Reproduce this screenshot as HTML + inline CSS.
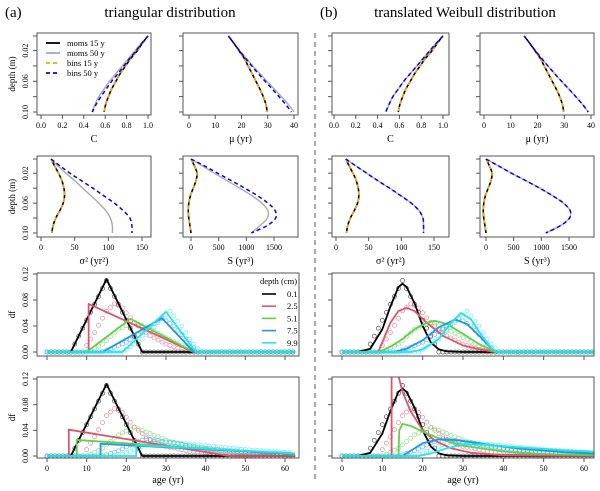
<!DOCTYPE html>
<html><head><meta charset="utf-8"><style>
html,body{margin:0;padding:0;background:#fff;}
svg{display:block;font-family:"Liberation Serif",serif;}
</style></head><body>
<svg id="fig" width="600" height="491" viewBox="0 0 600 491" xmlns="http://www.w3.org/2000/svg">
<text x="5" y="17" font-size="15">(a)</text>
<text x="170" y="17" font-size="15" text-anchor="middle">triangular distribution</text>
<text x="320" y="17" font-size="15">(b)</text>
<text x="465" y="17" font-size="15" text-anchor="middle">translated Weibull distribution</text>
<line x1="315" y1="33" x2="315" y2="482" stroke="#555" stroke-width="1" stroke-dasharray="5,4"/>
</svg>
<script>
// ---------- data ----------
const depths=[0.001,0.01,0.02,0.03,0.04,0.05,0.06,0.07,0.08,0.09,0.10];
const C_m15=[1.0,0.95,0.90,0.84,0.79,0.74,0.70,0.66,0.63,0.605,0.59];
const C_m50=[1.0,0.94,0.88,0.82,0.76,0.70,0.64,0.59,0.54,0.505,0.475];
const C_b50a=[1.0,0.945,0.89,0.83,0.775,0.72,0.66,0.61,0.56,0.515,0.48];
const MU_m15=[15,17,19,21,22.5,24,25.5,27,28.3,29.3,29.8];
const MU_m50=[15,17,19.3,21.8,24.3,27,29.7,32.5,35.2,37.8,40];
const MU_b50a=[15,17,19.2,21.5,23.9,26.4,29,31.7,34.3,36.8,39];
const MU_m50b=[15,17,19.2,21.5,23.9,26.4,29,31.7,34.3,36.8,39];
const V_m15=[15,20,26,31,34,35,33,28,22,18,16];
const V_m50a=[15,25,37,50,62,74,86,96,103,106,106];
const V_b50a=[15,28,43,60,77,93,109,122,132,135,135];
const V_m50b=[15,30,47,64,82,99,115,127,133,134,134];
const S_m15=[0,60,110,90,40,-10,-40,-50,-40,-20,0];
const S_m50a=[0,200,420,650,880,1100,1280,1390,1380,1250,1090];
const S_b50a=[0,240,480,730,970,1200,1390,1520,1530,1380,1090];
const S_m50b=[0,220,460,720,970,1200,1400,1520,1510,1350,1080];

const depthLabels=["0.1","2.5","5.1","7.5","9.9"];
const colors=["#000000","#DF536B","#61D04F","#2297E6","#28E2E5"];
const ageTicks=[0,10,20,30,40,50,60];
const dfTicks=[0,0.04,0.08,0.12];
const dfTickLabels=["0.00","0.04","0.08","0.12"];

// bins (circles) - same data in both models
const bin3=[
 [[6,0],[15,0.11],[24,0]],
 [[9,0],[12,0.03],[15,0.063],[17,0.074],[19,0.068],[22,0.045],[26,0.025],[30,0.012],[34,0.004],[37,0]],
 [[10,0],[14,0.012],[18,0.035],[22,0.046],[26,0.035],[30,0.022],[34,0.01],[38,0]],
 [[14,0],[20,0.015],[25,0.035],[29,0.052],[32,0.04],[35,0.02],[38,0]],
 [[19,0],[24,0.02],[28,0.045],[31,0.063],[34,0.04],[36.5,0.015],[39,0]]];
const bin4=[
 [[6,0],[15,0.11],[24,0]],
 [[9,0],[12,0.03],[15,0.063],[17,0.074],[19,0.068],[22,0.045],[26,0.025],[30,0.015],[36,0.007],[45,0.002],[55,0]],
 [[10,0],[14,0.012],[18,0.033],[22,0.045],[26,0.035],[30,0.025],[36,0.014],[45,0.006],[62,0.001]],
 [[14,0],[18,0.008],[22,0.02],[25,0.027],[30,0.022],[40,0.012],[50,0.006],[62,0.003]],
 [[18,0],[22,0.01],[26,0.02],[30,0.022],[40,0.016],[50,0.01],[62,0.005]]];
const triA3=[
 [[0,0],[6,0],[15,0.112],[24,0],[62.5,0]],
 [[0,0],[10.5,0],[10.5,0.074],[37,0],[62.5,0]],
 [[0,0],[10,0],[21,0.051],[37,0],[62.5,0]],
 [[0,0],[14,0],[29,0.052],[37,0],[62.5,0]],
 [[0,0],[19,0],[30,0.062],[37.5,0],[62.5,0]]];
const triA4=[
 [[0,0],[6,0],[15,0.112],[24,0],[62.5,0]],
 [[0,0],[5.5,0],[5.5,0.041],[46,0],[62.5,0]],
 [[0,0],[7.5,0],[7.5,0.025],[62.5,0.002]],
 [[0,0],[13.5,0],[13.5,0.019],[62.5,0.003]],
 [[0,0],[22.5,0],[22.5,0.017],[62.5,0.004]]];
const wbB3=[
 [[0,0],[4,0],[7,0.005],[10,0.035],[12,0.07],[14,0.1],[15,0.105],[16,0.1],[18,0.075],[20,0.04],[22,0.015],[24,0.004],[26,0.001],[30,0],[62.5,0]],
 [[0,0],[9,0],[10,0.015],[12,0.045],[14,0.063],[16,0.068],[18,0.063],[21,0.045],[25,0.025],[30,0.01],[35,0.003],[38,0],[62.5,0]],
 [[0,0],[9,0],[12,0.008],[15,0.02],[18,0.035],[21,0.045],[23,0.048],[26,0.043],[30,0.028],[34,0.012],[37,0.003],[38,0],[62.5,0]],
 [[0,0],[13,0],[16,0.005],[20,0.018],[24,0.038],[28,0.05],[31,0.043],[34,0.025],[37,0.006],[38.5,0],[62.5,0]],
 [[0,0],[17,0],[20,0.004],[24,0.02],[27,0.045],[29.5,0.06],[32,0.05],[35,0.022],[37,0.006],[38.5,0],[62.5,0]]];
const wbB4=[
 wbB3[0],
 [[0,0],[12.3,0],[12.3,0.2],[13,0.16],[14,0.125],[15,0.1],[17,0.07],[20,0.04],[23,0.024],[27,0.012],[32,0.005],[40,0.001],[62.5,0]],
 [[0,0],[14,0],[14.2,0.04],[15,0.05],[17,0.047],[20,0.038],[25,0.025],[30,0.016],[40,0.007],[50,0.003],[62.5,0.001]],
 [[0,0],[15,0],[17,0.008],[20,0.02],[24,0.026],[28,0.025],[35,0.019],[45,0.011],[55,0.006],[62.5,0.004]],
 [[0,0],[19,0],[22,0.004],[26,0.012],[30,0.018],[35,0.018],[45,0.013],[55,0.009],[62.5,0.007]]];

// ---------- drawing ----------
const svg=document.getElementById('fig');
const NS='http://www.w3.org/2000/svg';
function mk(tag,attrs,parent){const e=document.createElementNS(NS,tag);for(const k in attrs)e.setAttribute(k,attrs[k]);(parent||svg).appendChild(e);return e;}
function txt(x,y,s,size,anchor,rot){const t=mk('text',{x:x,y:y,'font-size':size,'text-anchor':anchor||'middle'});if(rot)t.setAttribute('transform','rotate(-90 '+x+' '+y+')');t.textContent=s;return t;}
let clipId=0;
function panel(name,bx0,bx1,by0,by1,dx0,dx1,px0,px1,dy0,dy1,py0,py1){
  const g=mk('g',{});
  
  
  const id='cp'+(clipId++);
  const cp=mk('clipPath',{id:id},g);mk('rect',{x:bx0,y:by0,width:bx1-bx0,height:by1-by0},cp);
  const inner=mk('g',{'clip-path':'url(#'+id+')'},g);
  const box=mk('rect',{x:bx0,y:by0,width:bx1-bx0,height:by1-by0,fill:'none',stroke:'#555','stroke-width':1},g);
  
  
  return {g:g,inner:inner,bx0,bx1,by0,by1,
    X:v=>px0+(v-dx0)/(dx1-dx0)*(px1-px0),
    Y:v=>py0+(v-dy0)/(dy1-dy0)*(py1-py0)};
}
function xTicks(p,vals,labels,ly){
  vals.forEach((v,i)=>{const x=p.X(v);mk('line',{x1:x,x2:x,y1:p.by1,y2:p.by1+4,stroke:'#555'},p.g);
    if(labels){const t=txt(x,ly,labels[i],8);}});
}
function yTicks(p,vals,labels,lx){
  vals.forEach((v,i)=>{const y=p.Y(v);mk('line',{x1:p.bx0-4,x2:p.bx0,y1:y,y2:y,stroke:'#555'},p.g);
    if(labels&&labels[i]!==''){const t=txt(lx,y,labels[i],8,'middle',true);}});
}
function smooth(pts){
  let d='M'+pts[0][0]+','+pts[0][1];
  for(let i=0;i<pts.length-1;i++){
    const p0=pts[i-1]||pts[i],p1=pts[i],p2=pts[i+1],p3=pts[i+2]||p2;
    const c1=[p1[0]+(p2[0]-p0[0])/6,p1[1]+(p2[1]-p0[1])/6];
    const c2=[p2[0]-(p3[0]-p1[0])/6,p2[1]-(p3[1]-p1[1])/6];
    d+='C'+c1[0]+','+c1[1]+' '+c2[0]+','+c2[1]+' '+p2[0]+','+p2[1];
  }
  return d;
}
function depthCurve(p,vals,color,dash,w,name){
  const pts=vals.map((v,i)=>[p.X(v),p.Y(depths[i])]);
  const e=mk('path',{d:smooth(pts),fill:'none',stroke:color,'stroke-width':w},p.inner);
  if(dash)e.setAttribute('stroke-dasharray',dash);
  
  
}
function depthPanel(name,bx0,bx1,by0,by1,dx0,dx1,px0,px1,ticks,tlabels,series,showY,xtitle,row){
  const p=panel(name,bx0,bx1,by0,by1,dx0,dx1,px0,px1,0.001,0.10,row==1?36:159,row==1?112:233);
  xTicks(p,ticks,tlabels,by1+13);
  yTicks(p,[0.001,0.02,0.04,0.06,0.08,0.10],showY?['','0.02','','0.06','','0.10']:null,bx0-9);
  series.forEach(s=>depthCurve(p,s[0],s[1],s[2],s[3],s[4]));
  const t=txt((bx0+bx1)/2,by1+27,xtitle,10);
  if(showY){const y=txt(15,(by0+by1)/2,'depth (m)',9,'middle',true);}
  return p;
}
const BK='#000',GR='#aaaaaa',OR='#FFA500',BL='#0000FF',DS='4,3';
// row 1
depthPanel('c-panel-a',37,151,33,115,0,1,41,148,[0,0.2,0.4,0.6,0.8,1.0],['0.0','0.2','0.4','0.6','0.8','1.0'],
 [[C_m50,GR,null,1.4,'moms-50-line'],[C_m15,BK,null,1.6,'moms-15-line'],[C_m15,OR,DS,1.5,'bins-15-line'],[C_b50a,BL,DS,1.5,'bins-50-line']],true,'C',1);
depthPanel('mu-panel-a',183,298,33,115,0,40,189,294,[0,10,20,30,40],['0','10','20','30','40'],
 [[MU_m50,GR,null,1.4,'moms-50-line'],[MU_m15,BK,null,1.6,'moms-15-line'],[MU_m15,OR,DS,1.5,'bins-15-line'],[MU_b50a,BL,DS,1.5,'bins-50-line']],false,'μ (yr)',1);
depthPanel('c-panel-b',332,449,33,115,0,1,334,443,[0,0.2,0.4,0.6,0.8,1.0],['0.0','0.2','0.4','0.6','0.8','1.0'],
 [[C_m50,GR,null,1.4,'moms-50-line'],[C_m15,BK,null,1.6,'moms-15-line'],[C_m15,OR,DS,1.5,'bins-15-line'],[C_m50,BL,DS,1.5,'bins-50-line']],false,'C',1);
depthPanel('mu-panel-b',480,594,33,115,0,40,484,591,[0,10,20,30,40],['0','10','20','30','40'],
 [[MU_m50b,GR,null,1.4,'moms-50-line'],[MU_m15,BK,null,1.6,'moms-15-line'],[MU_m15,OR,DS,1.5,'bins-15-line'],[MU_m50b,BL,DS,1.5,'bins-50-line']],false,'μ (yr)',1);
// row 2
depthPanel('var-panel-a',37,151,156,237,0,150,41,142,[0,50,100,150],['0','50','100','150'],
 [[V_m50a,GR,null,1.4,'moms-50-line'],[V_m15,BK,null,1.6,'moms-15-line'],[V_m15,OR,DS,1.5,'bins-15-line'],[V_b50a,BL,DS,1.5,'bins-50-line']],true,'σ² (yr²)',2);
depthPanel('s-panel-a',183,298,156,237,0,1500,191,274,[0,500,1000,1500],['0','500','1000','1500'],
 [[S_m50a,GR,null,1.4,'moms-50-line'],[S_m15,BK,null,1.6,'moms-15-line'],[S_m15,OR,DS,1.5,'bins-15-line'],[S_b50a,BL,DS,1.5,'bins-50-line']],false,'S (yr³)',2);
depthPanel('var-panel-b',332,449,156,237,0,150,336,434,[0,50,100,150],['0','50','100','150'],
 [[V_m50b,GR,null,1.4,'moms-50-line'],[V_m15,BK,null,1.6,'moms-15-line'],[V_m15,OR,DS,1.5,'bins-15-line'],[V_m50b,BL,DS,1.5,'bins-50-line']],false,'σ² (yr²)',2);
depthPanel('s-panel-b',480,594,156,237,0,1500,486,569,[0,500,1000,1500],['0','500','1000','1500'],
 [[S_m50b,GR,null,1.4,'moms-50-line'],[S_m15,BK,null,1.6,'moms-15-line'],[S_m15,OR,DS,1.5,'bins-15-line'],[S_m50b,BL,DS,1.5,'bins-50-line']],false,'S (yr³)',2);

// legend 1
(function(){
  const g=mk('g',{});
  
  
  const items=[['moms 15 y',BK,null],['moms 50 y',GR,null],['bins 15 y',OR,DS],['bins 50 y',BL,DS]];
  items.forEach((it,i)=>{const y=43+i*10;
    const l=mk('line',{x1:46,x2:60,y1:y,y2:y,stroke:it[1],'stroke-width':1.8},g);
    if(it[2])l.setAttribute('stroke-dasharray',it[2]);
    const t=mk('text',{x:67,y:y+3,'font-size':8.5},g);t.textContent=it[0];
    
    });
})();

// density panels
function interp(pts,a){
  if(a<=pts[0][0]||a>=pts[pts.length-1][0])return 0;
  for(let i=0;i<pts.length-1;i++){if(a>=pts[i][0]&&a<=pts[i+1][0]){const t=(a-pts[i][0])/(pts[i+1][0]-pts[i][0]);return pts[i][1]+t*(pts[i+1][1]-pts[i][1]);}}
  return 0;
}
function dfPanel(name,bx0,bx1,by0,by1,px0,px1,py0,py1,lines,bins,showY,showX,isTri){
  const p=panel(name,bx0,bx1,by0,by1,0,60,px0,px1,0,0.12,py0,py1);
  xTicks(p,ageTicks,showX?ageTicks.map(String):null,by1+13);
  yTicks(p,dfTicks,showY?dfTickLabels:null,bx0-9);
  bins.forEach((b,si)=>{
    const g=mk('g',{fill:'none',stroke:colors[si],'stroke-width':0.8,opacity:0.6},p.inner);
    
    
    for(let a=0;a<=62;a++){mk('circle',{cx:p.X(a),cy:p.Y(interp(b,a)),r:2},g);}
  });
  lines.forEach((l,si)=>{
    const pts=l.map(q=>[p.X(q[0]),p.Y(q[1])]);
    const e=mk('path',{d:'M'+pts.map(q=>q[0]+','+q[1]).join('L'),fill:'none',stroke:colors[si],'stroke-width':1.8,'stroke-linejoin':'round'},p.inner);
    
    
  });
  if(showY){const y=txt(15,(by0+by1)/2,'df',9,'middle',true);}
  if(showX){const t=txt((bx0+bx1)/2,by1+25,'age (yr)',10);}
}
dfPanel('density-panel-a-top',37,299,273,356,47,285,352,274,triA3,bin3,true,false);
dfPanel('density-panel-a-bottom',37,299,377,458,47,285,456,379,triA4,bin4,true,true);
dfPanel('density-panel-b-top',332,594,273,356,342,584,352,274,wbB3,bin3,false,false);
dfPanel('density-panel-b-bottom',332,594,377,458,342,584,456,379,wbB4,bin4,false,true);

// legend 2
(function(){
  const g=mk('g',{});
  
  
  const h=mk('text',{x:260,y:284,'font-size':8.5},g);h.textContent='depth (cm)';
  depthLabels.forEach((s,i)=>{const y=294+i*12.2;
    mk('line',{x1:262,x2:276,y1:y,y2:y,stroke:colors[i],'stroke-width':1.6},g);
    const t=mk('text',{x:287,y:y+3,'font-size':8.5},g);t.textContent=s;
    
    });
})();
</script>
</body></html>
